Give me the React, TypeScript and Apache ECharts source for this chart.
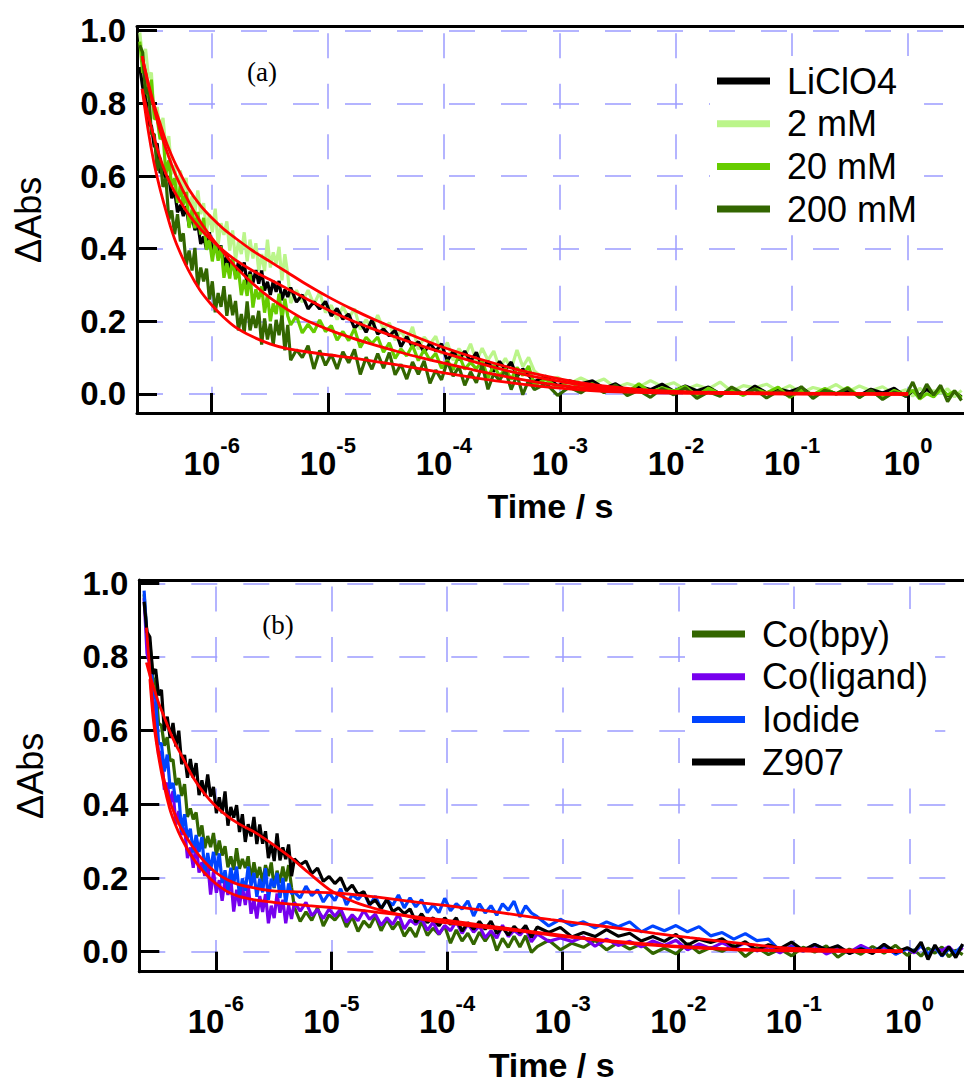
import React, { useEffect, useRef } from 'react';
import * as echarts from 'echarts';

// log10(time / s) of the shared sampling grid of the traces
const TIME_EXP = [
  -6.62, -6.595, -6.57, -6.545, -6.52, -6.495, -6.47, -6.445, -6.42, -6.395, -6.37, -6.345, -6.32,
  -6.295, -6.27, -6.245, -6.22, -6.195, -6.17, -6.145, -6.12, -6.095, -6.07, -6.045, -6.02, -5.995,
  -5.97, -5.945, -5.92, -5.895, -5.87, -5.845, -5.82, -5.795, -5.77, -5.745, -5.72, -5.695, -5.67,
  -5.645, -5.62, -5.595, -5.57, -5.545, -5.52, -5.495, -5.47, -5.445, -5.42, -5.395, -5.37, -5.345,
  -5.32, -5.27, -5.22, -5.17, -5.12, -5.07, -5.02, -4.97, -4.92, -4.87, -4.82, -4.77, -4.72, -4.67,
  -4.62, -4.57, -4.52, -4.47, -4.42, -4.37, -4.32, -4.27, -4.22, -4.17, -4.12, -4.07, -4.02, -3.97,
  -3.92, -3.87, -3.82, -3.77, -3.72, -3.67, -3.62, -3.57, -3.52, -3.47, -3.42, -3.37, -3.32, -3.27,
  -3.22, -3.12, -3.02, -2.92, -2.82, -2.72, -2.62, -2.52, -2.42, -2.32, -2.22, -2.12, -2.02, -1.92,
  -1.82, -1.72, -1.62, -1.52, -1.42, -1.32, -1.22, -1.12, -1.02, -0.92, -0.82, -0.72, -0.62, -0.52,
  -0.42, -0.32, -0.22, -0.12, -0.02, 0.04, 0.1, 0.16, 0.22, 0.28, 0.34, 0.4, 0.46,
];

// ---------- Panel (a) traces ----------
const A_LICLO4 = [
  0.9, 0.844, 0.818, 0.741, 0.739, 0.68, 0.69, 0.608, 0.622, 0.589, 0.599, 0.539, 0.56, 0.5, 0.521, 0.49, 0.517, 0.462, 0.491, 0.451, 0.468, 0.413, 0.433, 0.398, 0.445, 0.393,
  0.412, 0.386, 0.409, 0.348, 0.385, 0.344, 0.364, 0.326, 0.363, 0.334, 0.362, 0.3, 0.337, 0.306, 0.341, 0.304, 0.34, 0.285, 0.309, 0.273, 0.311, 0.281, 0.311, 0.258, 0.288, 0.267,
  0.293, 0.253, 0.273, 0.234, 0.254, 0.234, 0.255, 0.215, 0.235, 0.206, 0.22, 0.181, 0.197, 0.17, 0.204, 0.165, 0.179, 0.16, 0.176, 0.13, 0.158,
  0.129, 0.144, 0.114, 0.14, 0.118, 0.138, 0.091, 0.118, 0.094, 0.118, 0.089, 0.115, 0.074, 0.09, 0.062, 0.09, 0.067, 0.088, 0.048, 0.069, 0.051,
  0.034, 0.049, 0.023, 0.036, 0.028, 0.036, 0.016, 0.028, 0.008, 0.021, 0.012, 0.027, 0.008, 0.022, 0.009, 0.019, 0.0, 0.012, 0.0, 0.022, 0.003,
  0.014, 0.006, 0.018, -0.005, 0.013, 0.0, 0.01, -0.004, 0.013, 0.003, 0.016, -0.007, 0.008, -0.003, 0.013, -0.001, 0.015, -0.005, 0.005, -0.008,
];
const A_2MM = [
  0.995, 0.92, 0.95, 0.87, 0.885, 0.755, 0.79, 0.72, 0.76, 0.675, 0.71, 0.605, 0.63, 0.56, 0.615, 0.555, 0.595, 0.5, 0.545, 0.498, 0.56, 0.495, 0.525, 0.448, 0.495, 0.445,
  0.51, 0.41, 0.47, 0.438, 0.475, 0.395, 0.45, 0.368, 0.42, 0.385, 0.445, 0.365, 0.425, 0.373, 0.415, 0.338, 0.385, 0.338, 0.425, 0.348, 0.39, 0.358, 0.405, 0.313, 0.385, 0.33,
  0.25, 0.286, 0.253, 0.286, 0.246, 0.28, 0.224, 0.244, 0.205, 0.241, 0.208, 0.235, 0.178, 0.205, 0.178, 0.217, 0.178, 0.196, 0.148, 0.175, 0.145,
  0.185, 0.123, 0.157, 0.137, 0.159, 0.11, 0.142, 0.093, 0.125, 0.103, 0.138, 0.09, 0.126, 0.093, 0.118, 0.07, 0.098, 0.069, 0.121, 0.075, 0.101,
  0.063, 0.037, 0.046, 0.028, 0.044, 0.029, 0.041, 0.017, 0.029, 0.019, 0.037, 0.021, 0.031, 0.012, 0.025, 0.014, 0.033, 0.007, 0.023, 0.017, 0.027,
  0.008, 0.023, 0.003, 0.018, 0.01, 0.026, 0.006, 0.022, 0.009, 0.02, 0.0, 0.012, -0.006, 0.016, -0.002, 0.009, 0.002, 0.014, -0.008, 0.01,
];
const A_20MM = [
  0.97, 0.885, 0.885, 0.814, 0.865, 0.758, 0.758, 0.701, 0.716, 0.605, 0.643, 0.573, 0.594, 0.526, 0.572, 0.521, 0.556, 0.457, 0.508, 0.456, 0.501, 0.439, 0.485, 0.397, 0.424, 0.365,
  0.418, 0.367, 0.407, 0.32, 0.36, 0.318, 0.376, 0.316, 0.342, 0.272, 0.314, 0.27, 0.33, 0.238, 0.288, 0.261, 0.296, 0.224, 0.273, 0.2, 0.249, 0.22, 0.276, 0.205, 0.262, 0.215,
  0.19, 0.215, 0.168, 0.192, 0.17, 0.204, 0.172, 0.188, 0.148, 0.172, 0.147, 0.18, 0.128, 0.156, 0.139, 0.157, 0.115, 0.141, 0.098, 0.124, 0.105,
  0.134, 0.092, 0.122, 0.093, 0.112, 0.071, 0.093, 0.066, 0.108, 0.068, 0.087, 0.069, 0.092, 0.044, 0.08, 0.049, 0.07, 0.04, 0.073, 0.051, 0.077,
  0.024, 0.041, 0.018, 0.034, 0.018, 0.028, 0.005, 0.017, 0.004, 0.028, 0.005, 0.017, 0.008, 0.021, -0.005, 0.016, 0.0, 0.012, -0.004, 0.014, 0.003,
  0.019, -0.009, 0.011, -0.002, 0.015, 0.0, 0.018, -0.006, 0.006, -0.01, 0.01, -0.003, 0.01, -0.014, 0.001, -0.008, 0.013, -0.003, 0.008, -0.011,
];
const A_200MM = [
  0.96, 0.94, 0.825, 0.845, 0.715, 0.715, 0.615, 0.65, 0.57, 0.595, 0.48, 0.505, 0.44, 0.495, 0.42, 0.442, 0.355, 0.395, 0.34, 0.402, 0.295, 0.348, 0.31, 0.345, 0.26, 0.31,
  0.225, 0.278, 0.24, 0.297, 0.215, 0.273, 0.217, 0.256, 0.175, 0.22, 0.17, 0.255, 0.175, 0.216, 0.182, 0.229, 0.136, 0.208, 0.15, 0.193, 0.136, 0.204, 0.162, 0.216, 0.12, 0.19,
  0.093, 0.122, 0.1, 0.133, 0.069, 0.12, 0.079, 0.109, 0.069, 0.116, 0.086, 0.123, 0.054, 0.101, 0.068, 0.111, 0.071, 0.114, 0.053, 0.082, 0.041,
  0.088, 0.054, 0.091, 0.029, 0.066, 0.039, 0.09, 0.049, 0.075, 0.024, 0.061, 0.031, 0.081, 0.013, 0.056, 0.037, 0.066, 0.012, 0.052, -0.002, 0.038,
  0.012, 0.029, -0.004, 0.019, 0.003, 0.024, 0.004, 0.025, -0.004, 0.01, -0.009, 0.015, -0.002, 0.017, -0.012, 0.006, -0.006, 0.019, 0.001, 0.013, -0.011,
  0.008, -0.006, 0.02, -0.012, 0.01, 0.001, 0.016, -0.01, 0.011, -0.015, 0.005, -0.005, 0.033, -0.012, 0.027, -0.003, 0.024, -0.021, 0.009, -0.018,
];

// ---------- Panel (b) traces ----------
const B_COBPY = [
  0.97, 0.859, 0.838, 0.746, 0.725, 0.62, 0.614, 0.559, 0.582, 0.518, 0.521, 0.452, 0.471, 0.423, 0.455, 0.366, 0.389, 0.359, 0.378, 0.313, 0.343, 0.281, 0.314, 0.284, 0.322, 0.262,
  0.302, 0.261, 0.286, 0.229, 0.259, 0.222, 0.281, 0.225, 0.252, 0.227, 0.259, 0.193, 0.243, 0.201, 0.23, 0.188, 0.235, 0.205, 0.242, 0.173, 0.22, 0.187, 0.231, 0.191, 0.235, 0.175,
  0.12, 0.082, 0.108, 0.085, 0.12, 0.07, 0.1, 0.086, 0.106, 0.067, 0.095, 0.055, 0.083, 0.066, 0.097, 0.057, 0.088, 0.061, 0.081, 0.042, 0.065,
  0.04, 0.083, 0.044, 0.064, 0.047, 0.07, 0.023, 0.059, 0.029, 0.05, 0.02, 0.053, 0.029, 0.053, 0.003, 0.036, 0.012, 0.042, 0.013, 0.043, -0.002,
  0.014, 0.031, 0.005, 0.023, 0.012, 0.031, 0.005, 0.025, 0.007, 0.021, -0.005, 0.01, -0.006, 0.022, -0.003, 0.011, 0.001, 0.017, -0.013, 0.011, -0.008,
  0.007, -0.011, 0.012, -0.001, 0.016, -0.015, 0.007, -0.007, 0.014, -0.004, 0.017, -0.01, 0.005, -0.012, 0.01, -0.004, 0.013, -0.014, 0.004, -0.008,
];
const B_COLIGAND = [
  0.96, 0.81, 0.778, 0.681, 0.656, 0.534, 0.543, 0.44, 0.459, 0.402, 0.436, 0.345, 0.382, 0.317, 0.337, 0.254, 0.283, 0.228, 0.295, 0.215, 0.243, 0.206, 0.241, 0.155, 0.218, 0.16,
  0.194, 0.138, 0.195, 0.154, 0.199, 0.109, 0.168, 0.124, 0.179, 0.127, 0.182, 0.103, 0.141, 0.09, 0.151, 0.108, 0.156, 0.077, 0.125, 0.091, 0.158, 0.106, 0.141, 0.077, 0.126, 0.089,
  0.134, 0.11, 0.134, 0.098, 0.114, 0.09, 0.116, 0.096, 0.116, 0.08, 0.1, 0.084, 0.112, 0.088, 0.102, 0.072, 0.092, 0.074, 0.102, 0.062, 0.086,
  0.074, 0.09, 0.058, 0.08, 0.048, 0.071, 0.057, 0.082, 0.05, 0.075, 0.053, 0.07, 0.038, 0.057, 0.037, 0.072, 0.041, 0.058, 0.045, 0.064, 0.027,
  0.048, 0.028, 0.037, 0.028, 0.04, 0.015, 0.034, 0.017, 0.028, 0.013, 0.029, 0.017, 0.031, 0.005, 0.021, 0.009, 0.024, 0.009, 0.025, 0.002, 0.013,
  -0.003, 0.016, 0.003, 0.016, -0.006, 0.007, -0.002, 0.017, 0.002, 0.013, -0.006, 0.008, -0.003, 0.017, -0.008, 0.009, 0.003, 0.014, -0.005, 0.011,
];
const B_IODIDE = [
  0.98, 0.853, 0.832, 0.712, 0.687, 0.565, 0.565, 0.489, 0.535, 0.443, 0.458, 0.406, 0.426, 0.325, 0.373, 0.308, 0.334, 0.269, 0.317, 0.271, 0.311, 0.215, 0.268, 0.22, 0.271, 0.215,
  0.267, 0.186, 0.221, 0.168, 0.228, 0.184, 0.231, 0.151, 0.199, 0.165, 0.231, 0.179, 0.214, 0.149, 0.198, 0.161, 0.227, 0.141, 0.198, 0.175, 0.214, 0.146, 0.2, 0.131, 0.185, 0.157,
  0.162, 0.146, 0.178, 0.152, 0.168, 0.135, 0.159, 0.139, 0.171, 0.127, 0.155, 0.142, 0.161, 0.126, 0.151, 0.116, 0.141, 0.126, 0.154, 0.119, 0.146,
  0.122, 0.141, 0.106, 0.127, 0.106, 0.145, 0.111, 0.13, 0.116, 0.138, 0.097, 0.13, 0.105, 0.125, 0.099, 0.13, 0.113, 0.137, 0.094, 0.125, 0.105,
  0.095, 0.07, 0.088, 0.071, 0.081, 0.065, 0.081, 0.068, 0.081, 0.054, 0.07, 0.057, 0.071, 0.054, 0.068, 0.043, 0.052, 0.034, 0.049, 0.03, 0.034,
  0.002, 0.012, 0.001, 0.02, 0.004, 0.015, -0.004, 0.01, -0.002, 0.018, -0.007, 0.009, 0.002, 0.017, -0.007, 0.012, -0.012, 0.007, -0.002, 0.018,
];
const B_Z907 = [
  0.95, 0.868, 0.854, 0.754, 0.767, 0.696, 0.711, 0.6, 0.638, 0.58, 0.621, 0.557, 0.6, 0.509, 0.534, 0.472, 0.523, 0.472, 0.512, 0.425, 0.465, 0.423, 0.481, 0.421, 0.447, 0.376,
  0.419, 0.376, 0.435, 0.342, 0.393, 0.364, 0.398, 0.325, 0.373, 0.298, 0.346, 0.313, 0.366, 0.292, 0.345, 0.293, 0.327, 0.254, 0.293, 0.246, 0.321, 0.248, 0.283, 0.251, 0.291, 0.205,
  0.252, 0.236, 0.246, 0.212, 0.227, 0.191, 0.204, 0.185, 0.201, 0.165, 0.181, 0.155, 0.163, 0.129, 0.14, 0.117, 0.142, 0.109, 0.119, 0.103, 0.116,
  0.08, 0.103, 0.079, 0.092, 0.07, 0.092, 0.074, 0.092, 0.056, 0.079, 0.061, 0.082, 0.061, 0.083, 0.05, 0.066, 0.045, 0.069, 0.052, 0.071, 0.039,
  0.067, 0.052, 0.066, 0.04, 0.052, 0.041, 0.06, 0.042, 0.05, 0.029, 0.041, 0.028, 0.047, 0.018, 0.034, 0.025, 0.035, 0.012, 0.027, 0.004, 0.019,
  0.008, 0.026, 0.004, 0.02, 0.005, 0.016, -0.005, 0.008, -0.005, 0.02, -0.002, 0.011, 0.0, 0.026, -0.021, 0.018, -0.011, 0.013, -0.016, 0.021,
];

// ---------- Fit curves (red) ----------
const FIT_EXP_A = [
  -6.6, -6.55, -6.5, -6.45, -6.4, -6.35, -6.3, -6.2, -6.1, -6.0, -5.9, -5.8, -5.65, -5.5, -5.35, -5.2, -5.0,
  -4.8, -4.6, -4.4, -4.2, -4.0, -3.7, -3.4, -3.1, -2.8, -2.5, -2.2, -1.9, -1.5, -1.0, -0.5, 0.0,
];
const FIT_LICLO4 = [0.84, 0.77, 0.71, 0.655, 0.61, 0.575, 0.545, 0.495, 0.455, 0.423, 0.395, 0.37, 0.34, 0.315, 0.29, 0.265, 0.232, 0.203, 0.178, 0.155, 0.133, 0.113, 0.085, 0.06, 0.04, 0.024, 0.014, 0.008, 0.005, 0.003, 0.002, 0.001, 0.0];
const FIT_2MM = [0.93, 0.86, 0.8, 0.75, 0.7, 0.66, 0.625, 0.565, 0.52, 0.485, 0.455, 0.43, 0.395, 0.365, 0.335, 0.305, 0.268, 0.235, 0.205, 0.178, 0.152, 0.128, 0.097, 0.07, 0.048, 0.03, 0.018, 0.01, 0.006, 0.004, 0.002, 0.001, 0.0];
const FIT_20MM = [0.93, 0.855, 0.79, 0.73, 0.68, 0.635, 0.595, 0.53, 0.475, 0.43, 0.39, 0.352, 0.305, 0.265, 0.233, 0.205, 0.178, 0.155, 0.135, 0.117, 0.1, 0.085, 0.063, 0.044, 0.028, 0.017, 0.01, 0.006, 0.004, 0.002, 0.001, 0.0, 0.0];
const FIT_200MM = [0.84, 0.73, 0.64, 0.57, 0.51, 0.455, 0.41, 0.34, 0.285, 0.245, 0.212, 0.185, 0.158, 0.138, 0.125, 0.117, 0.108, 0.1, 0.09, 0.08, 0.069, 0.058, 0.043, 0.03, 0.019, 0.011, 0.006, 0.003, 0.002, 0.001, 0.0, 0.0, 0.0];

const FIT_EXP_B = [
  -6.6, -6.57, -6.54, -6.5, -6.45, -6.4, -6.35, -6.3, -6.2, -6.1, -6.0, -5.9, -5.8, -5.65, -5.5, -5.35, -5.2, -5.0,
  -4.8, -4.6, -4.4, -4.2, -4.0, -3.7, -3.4, -3.1, -2.8, -2.5, -2.2, -1.9, -1.5, -1.2, -1.0, -0.5, -0.06,
];
const FIT_IODIDE = [0.88, 0.76, 0.65, 0.55, 0.47, 0.41, 0.37, 0.335, 0.285, 0.245, 0.215, 0.195, 0.182, 0.172, 0.165, 0.163, 0.162, 0.16, 0.155, 0.148, 0.14, 0.132, 0.125, 0.113, 0.1, 0.087, 0.075, 0.063, 0.05, 0.038, 0.024, 0.014, 0.009, 0.004, 0.003];
const FIT_COLIGAND = [null, 0.74, 0.63, 0.54, 0.455, 0.39, 0.345, 0.31, 0.255, 0.215, 0.185, 0.163, 0.15, 0.14, 0.134, 0.129, 0.125, 0.12, 0.114, 0.107, 0.1, 0.092, 0.085, 0.072, 0.06, 0.048, 0.037, 0.027, 0.019, 0.013, 0.007, 0.004, 0.003, 0.001, 0.0];
const FIT_Z907 = [0.785, 0.75, 0.72, 0.68, 0.64, 0.6, 0.565, 0.535, 0.475, 0.43, 0.395, 0.368, 0.347, 0.322, 0.29, 0.255, 0.215, 0.165, 0.135, 0.115, 0.1, 0.087, 0.078, 0.067, 0.057, 0.045, 0.035, 0.025, 0.017, 0.011, 0.005, 0.003, 0.002, 0.001, 0.0];

const LEGEND_A = ['LiClO4', '2 mM', '20 mM', '200 mM'];
const LEGEND_B = ['Co(bpy)', 'Co(ligand)', 'Iodide', 'Z907'];

const FONT = "'Liberation Sans', Arial, Helvetica, sans-serif";
const SERIF = "'Liberation Serif', 'Times New Roman', serif";
const GRID_COLOR = '#9c9cff';
const FIT_COLOR = '#ff0000';

function pairs(exps: number[], vals: (number | null)[]) {
  const out: number[][] = [];
  for (let i = 0; i < exps.length; i++) {
    const v = vals[i];
    if (v !== null && v !== undefined) out.push([Math.pow(10, exps[i]), v]);
  }
  return out;
}

function xLogAxis(gridIndex: number, min: number, max: number) {
  return {
    type: 'log',
    logBase: 10,
    gridIndex,
    min,
    max,
    axisLine: { onZero: false, lineStyle: { color: '#000', width: 3 } },
    axisTick: { inside: true, length: 20, lineStyle: { color: '#000', width: 3 } },
    axisLabel: {
      margin: 21,
      showMinLabel: false,
      showMaxLabel: false,
      formatter: (v: number) => {
        const e = Math.log10(v);
        const r = Math.round(e);
        if (Math.abs(e - r) > 0.01) return '';
        return `{b|10}{s|${r}}`;
      },
      rich: {
        b: { fontFamily: FONT, fontSize: 33, fontWeight: 'bold', color: '#000', lineHeight: 58 },
        s: { fontFamily: FONT, fontSize: 22, fontWeight: 'bold', color: '#000', lineHeight: 6, verticalAlign: 'top' },
      },
    },
    splitLine: {
      show: true,
      showMinLine: false,
      showMaxLine: false,
      lineStyle: { color: GRID_COLOR, width: 1.5, type: [25, 25.5], dashOffset: 44 },
    },
    name: 'Time / s',
    nameLocation: 'middle',
    nameGap: 76,
    nameTextStyle: { fontFamily: FONT, fontSize: 34, fontWeight: 'bold', color: '#000' },
  };
}

function yAxis(gridIndex: number, min: number, max: number) {
  return {
    type: 'value',
    gridIndex,
    min,
    max,
    splitNumber: 5,
    axisLine: { onZero: false, lineStyle: { color: '#000', width: 3 } },
    axisTick: { inside: true, length: 20, lineStyle: { color: '#000', width: 3 } },
    axisLabel: {
      margin: 11,
      showMinLabel: false,
      showMaxLabel: false,
      fontFamily: FONT,
      fontSize: 33,
      fontWeight: 'bold',
      color: '#000',
      formatter: (v: number) => (Math.abs(v * 5 - Math.round(v * 5)) < 1e-6 ? Math.abs(v).toFixed(1) : ''),
    },
    splitLine: {
      show: true,
      showMinLine: false,
      showMaxLine: false,
      lineStyle: { color: GRID_COLOR, width: 1.5, type: [26, 26] },
    },
    name: 'ΔAbs',
    nameLocation: 'middle',
    nameGap: 91,
    nameTextStyle: { fontFamily: FONT, fontSize: 36, color: '#000' },
  };
}

function topAxis(gridIndex: number) {
  return {
    type: 'value',
    gridIndex,
    position: 'top',
    min: 0,
    max: 1,
    axisLine: { show: true, onZero: false, lineStyle: { color: '#000', width: 3 } },
    axisTick: { show: false },
    axisLabel: { show: false },
    splitLine: { show: false },
  };
}

function dataSeries(name: string, color: string, xi: number, yi: number, vals: number[]) {
  return {
    type: 'line',
    name,
    xAxisIndex: xi,
    yAxisIndex: yi,
    data: pairs(TIME_EXP, vals),
    showSymbol: false,
    symbol: 'none',
    lineStyle: { color, width: 3.2 },
    itemStyle: { color },
    z: 2,
  };
}

function fitSeries(name: string, xi: number, yi: number, exps: number[], vals: (number | null)[]) {
  return {
    type: 'line',
    name,
    xAxisIndex: xi,
    yAxisIndex: yi,
    data: pairs(exps, vals),
    showSymbol: false,
    symbol: 'none',
    smooth: 0.3,
    lineStyle: { color: FIT_COLOR, width: 2.8 },
    itemStyle: { color: FIT_COLOR },
    z: 3,
  };
}

function legend(names: string[], left: number, top: number) {
  return {
    data: names,
    orient: 'vertical',
    left,
    top,
    padding: 7,
    backgroundColor: '#fff',
    itemWidth: 53,
    itemHeight: 7,
    itemGap: 6.7,
    icon: 'rect',
    selectedMode: false,
    textStyle: { fontFamily: FONT, fontSize: 36, lineHeight: 34, color: '#000', padding: [0, 0, 0, 12] },
  };
}

const option = {
  animation: false,
  backgroundColor: '#fff',
  grid: [
    { left: 137, top: 26.7, width: 830, height: 386.3 },
    { left: 139.3, top: 580, width: 827.7, height: 391.7 },
  ],
  xAxis: [
    xLogAxis(0, 2.27e-7, 3.03),
    xLogAxis(1, 2.18e-7, 2.96),
    topAxis(0),
    topAxis(1),
  ],
  yAxis: [yAxis(0, -0.0523, 1.011), yAxis(1, -0.0543, 1.009)],
  legend: [legend(LEGEND_A, 710, 56), legend(LEGEND_B, 685, 609)],
  graphic: [
    {
      type: 'text',
      x: 262,
      y: 72,
      style: { text: '(a)', fontFamily: SERIF, fontSize: 27, fill: '#000', align: 'center', verticalAlign: 'middle' },
    },
    {
      type: 'text',
      x: 278,
      y: 625,
      style: { text: '(b)', fontFamily: SERIF, fontSize: 27, fill: '#000', align: 'center', verticalAlign: 'middle' },
    },
  ],
  series: [
    dataSeries('2 mM', '#bbf58a', 0, 0, A_2MM),
    dataSeries('LiClO4', '#000000', 0, 0, A_LICLO4),
    dataSeries('20 mM', '#66cc00', 0, 0, A_20MM),
    dataSeries('200 mM', '#336600', 0, 0, A_200MM),
    fitSeries('fit LiClO4', 0, 0, FIT_EXP_A, FIT_LICLO4),
    fitSeries('fit 2 mM', 0, 0, FIT_EXP_A, FIT_2MM),
    fitSeries('fit 20 mM', 0, 0, FIT_EXP_A, FIT_20MM),
    fitSeries('fit 200 mM', 0, 0, FIT_EXP_A, FIT_200MM),
    dataSeries('Co(bpy)', '#336600', 1, 1, B_COBPY),
    dataSeries('Co(ligand)', '#7700ee', 1, 1, B_COLIGAND),
    dataSeries('Iodide', '#0044ff', 1, 1, B_IODIDE),
    dataSeries('Z907', '#000000', 1, 1, B_Z907),
    fitSeries('fit Co(ligand)', 1, 1, FIT_EXP_B, FIT_COLIGAND),
    fitSeries('fit Iodide', 1, 1, FIT_EXP_B, FIT_IODIDE),
    fitSeries('fit Z907', 1, 1, FIT_EXP_B, FIT_Z907),
  ],
};

export default function App() {
  const ref = useRef<HTMLDivElement>(null);
  useEffect(() => {
    const chart = echarts.init(ref.current as HTMLDivElement, null, { renderer: 'svg' });
    chart.setOption(option as any);
    return () => chart.dispose();
  }, []);
  return <div ref={ref} style={{ position: 'absolute', left: 0, top: 0, width: 964, height: 1092 }} />;
}
